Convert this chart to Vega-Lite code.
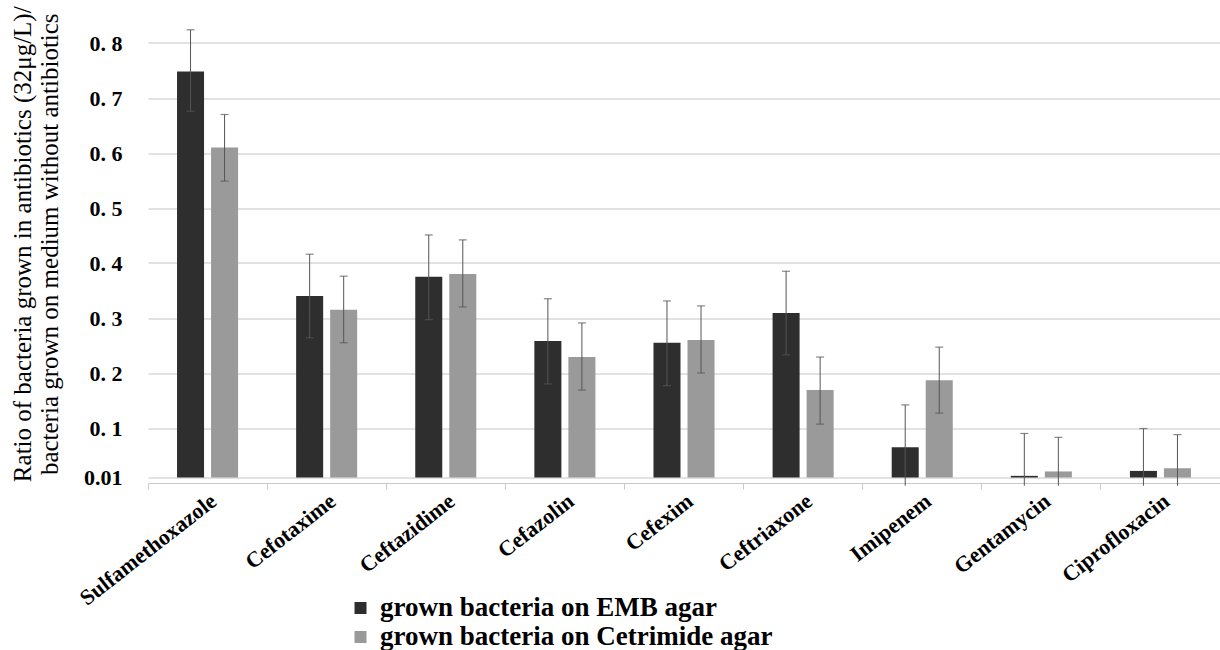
{
  "$schema": "https://vega.github.io/schema/vega-lite/v6.json",
  "autosize": {"type": "none"},
  "width": 1072,
  "height": 478.5,
  "padding": {"left": 148, "top": 4.5, "right": 0, "bottom": 167},
  "background": "white",
  "data": {"values": [
    {"drug": "Sulfamethoxazole", "medium": "grown bacteria on EMB agar", "value": 0.748, "lo": 0.676, "hi": 0.824},
    {"drug": "Sulfamethoxazole", "medium": "\u2005grown bacteria on Cetrimide agar", "value": 0.61, "lo": 0.549, "hi": 0.670},
    {"drug": "Cefotaxime", "medium": "grown bacteria on EMB agar", "value": 0.34, "lo": 0.264, "hi": 0.416},
    {"drug": "Cefotaxime", "medium": "\u2005grown bacteria on Cetrimide agar", "value": 0.315, "lo": 0.255, "hi": 0.376},
    {"drug": "Ceftazidime", "medium": "grown bacteria on EMB agar", "value": 0.375, "lo": 0.297, "hi": 0.451},
    {"drug": "Ceftazidime", "medium": "\u2005grown bacteria on Cetrimide agar", "value": 0.38, "lo": 0.32, "hi": 0.442},
    {"drug": "Cefazolin", "medium": "grown bacteria on EMB agar", "value": 0.258, "lo": 0.18, "hi": 0.335},
    {"drug": "Cefazolin", "medium": "\u2005grown bacteria on Cetrimide agar", "value": 0.229, "lo": 0.169, "hi": 0.291},
    {"drug": "Cefexim", "medium": "grown bacteria on EMB agar", "value": 0.255, "lo": 0.177, "hi": 0.331},
    {"drug": "Cefexim", "medium": "\u2005grown bacteria on Cetrimide agar", "value": 0.26, "lo": 0.2, "hi": 0.322},
    {"drug": "Ceftriaxone", "medium": "grown bacteria on EMB agar", "value": 0.309, "lo": 0.233, "hi": 0.385},
    {"drug": "Ceftriaxone", "medium": "\u2005grown bacteria on Cetrimide agar", "value": 0.169, "lo": 0.107, "hi": 0.229},
    {"drug": "Imipenem", "medium": "grown bacteria on EMB agar", "value": 0.065, "lo": -0.005, "hi": 0.142},
    {"drug": "Imipenem", "medium": "\u2005grown bacteria on Cetrimide agar", "value": 0.187, "lo": 0.127, "hi": 0.247},
    {"drug": "Gentamycin", "medium": "grown bacteria on EMB agar", "value": 0.013, "lo": -0.005, "hi": 0.09},
    {"drug": "Gentamycin", "medium": "\u2005grown bacteria on Cetrimide agar", "value": 0.021, "lo": -0.005, "hi": 0.083},
    {"drug": "Ciprofloxacin", "medium": "grown bacteria on EMB agar", "value": 0.022, "lo": -0.005, "hi": 0.099},
    {"drug": "Ciprofloxacin", "medium": "\u2005grown bacteria on Cetrimide agar", "value": 0.027, "lo": -0.005, "hi": 0.088}
  ]},
  "encoding": {
    "x": {
      "field": "drug", "type": "nominal", "sort": null,
      "scale": {"paddingInner": 0, "paddingOuter": 0},
      "axis": {
        "title": null, "labelAngle": -38, "labelAlign": "right", "labelBaseline": "top",
        "labelFont": "Liberation Serif", "labelFontWeight": "bold", "labelFontSize": 22,
        "labelColor": "black", "labelPadding": 1, "labelLimit": 0,
        "bandPosition": 0, "tickSize": 6, "tickColor": "#c8c8c8", "domainColor": "#c8c8c8"
      }
    },
    "xOffset": {"field": "medium", "type": "nominal", "sort": null,
      "scale": {"paddingInner": 0.206, "paddingOuter": 0.853}}
  },
  "layer": [
    {
      "mark": {"type": "bar"},
      "encoding": {
        "y": {
          "field": "value", "type": "quantitative",
          "scale": {"domain": [0, 0.87], "nice": false, "zero": false},
          "axis": {
            "title": ["Ratio of bacteria grown in antibiotics (32\u03bcg/L)/", "bacteria grown on medium without antibiotics"],
            "titleFont": "Liberation Serif", "titleFontWeight": "normal", "titleFontSize": 25,
            "titleColor": "black", "titlePadding": 21, "titleLineHeight": 27,
            "values": [0.01, 0.1, 0.2, 0.3, 0.4, 0.5, 0.6, 0.7, 0.8],
            "labelExpr": "datum.value == 0.01 ? '0.01' : replace(format(datum.value, '.1f'), '.', '. ')",
            "labelFont": "Liberation Serif", "labelFontWeight": "bold", "labelFontSize": 22,
            "labelColor": "black", "labelPadding": 26,
            "domain": false, "ticks": false, "grid": true, "gridColor": "#d9d9d9", "gridWidth": 1.5
          }
        },
        "y2": {"datum": 0.01},
        "color": {
          "field": "medium", "type": "nominal", "sort": null,
          "scale": {"range": ["#2e2e2e", "#9a9a9a"]},
          "legend": {
            "title": null, "orient": "none", "legendX": 199, "legendY": 590,
            "direction": "vertical", "symbolType": "square", "symbolSize": 144,
            "symbolStrokeWidth": 0, "labelFont": "Liberation Serif", "labelFontWeight": "bold",
            "labelFontSize": 27, "labelColor": "black", "rowPadding": 1, "labelOffset": 6,
            "labelLimit": 0
          }
        }
      }
    },
    {
      "mark": {"type": "rule", "color": "#555555", "strokeWidth": 1},
      "encoding": {
        "y": {"field": "lo", "type": "quantitative"},
        "y2": {"field": "hi"}
      }
    },
    {
      "mark": {"type": "tick", "color": "#555555", "thickness": 1.2, "size": 8, "orient": "horizontal"},
      "encoding": {"y": {"field": "hi", "type": "quantitative"}}
    },
    {
      "transform": [{"filter": "datum.lo > 0"}],
      "mark": {"type": "tick", "color": "#555555", "thickness": 1.2, "size": 8, "orient": "horizontal"},
      "encoding": {"y": {"field": "lo", "type": "quantitative"}}
    }
  ],
  "config": {"view": {"stroke": null}}
}
